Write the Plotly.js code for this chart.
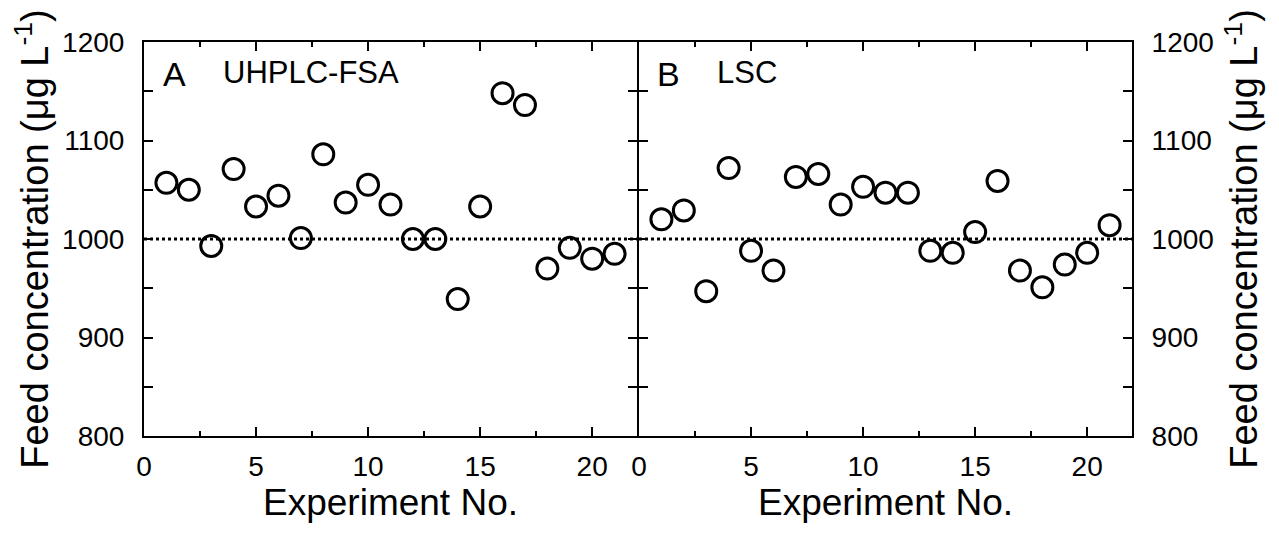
<!DOCTYPE html>
<html>
<head>
<meta charset="utf-8">
<script src="https://cdn.plot.ly/plotly-3.0.1.min.js"></script>
<style>
  html, body { margin: 0; padding: 0; background: #fff; }
  #chart { width: 1279px; height: 537px; }
</style>
</head>
<body>
<div id="chart"></div>
<script>
// Experiment numbers shared by both panels
const experiments = [1,2,3,4,5,6,7,8,9,10,11,12,13,14,15,16,17,18,19,20,21];

// Feed concentration measured by UHPLC-FSA (µg/L)
const uhplcFsa = [1057, 1050, 993, 1071, 1033, 1044, 1001, 1086, 1037, 1055, 1035,
                  1000, 1000, 939, 1033, 1148, 1136, 970, 991, 980, 985];

// Feed concentration measured by LSC (µg/L)
const lsc = [1020, 1029, 947, 1072, 988, 968, 1063, 1066, 1035, 1053, 1047,
             1047, 988, 986, 1007, 1059, 968, 951, 974, 986, 1014];

// Nominal feed concentration and x extent of the reference line
const nominalConc = 1000;
const lineSpan = [0, 22];

const FONT = 'Liberation Sans, Arial, sans-serif';

function points(y, xa, ya) {
  return {
    x: experiments, y: y, xaxis: xa, yaxis: ya,
    type: 'scatter', mode: 'markers',
    marker: { symbol: 'circle-open', size: 21, color: '#000', line: { width: 3, color: '#000' } },
    hoverinfo: 'x+y', showlegend: false
  };
}
function nominal(xa, ya) {
  return {
    x: lineSpan, y: [nominalConc, nominalConc], xaxis: xa, yaxis: ya,
    type: 'scatter', mode: 'lines',
    line: { color: '#000', width: 2.8, dash: 'dot' },
    hoverinfo: 'skip', showlegend: false
  };
}

const data = [
  nominal('x', 'y'), points(uhplcFsa, 'x', 'y'),
  nominal('x2', 'y2'), points(lsc, 'x2', 'y2')
];

const W = 1279, H = 537;
const px = v => v / W;
const yDom = [(H - 436) / H, (H - 42) / H];

const xBase = {
  range: [0, 22], tick0: 0, dtick: 5, ticks: 'inside', ticklen: 9, tickwidth: 2,
  tickcolor: '#000', showline: true, linecolor: '#000', linewidth: 2, mirror: 'ticks',
  showgrid: false, zeroline: false, fixedrange: true,
  minor: { dtick: 2.5, ticks: 'inside', ticklen: 5, tickwidth: 2, tickcolor: '#000', showgrid: false },
  tickfont: { family: FONT, size: 28, color: '#000' },
  ticklabelstandoff: 4,
  title: { text: 'Experiment No.', font: { family: FONT, size: 37, color: '#000' }, standoff: 4 }
};
const yBase = {
  range: [800, 1200], tick0: 800, dtick: 100, ticks: 'inside', ticklen: 9, tickwidth: 2,
  tickcolor: '#000', showline: true, linecolor: '#000', linewidth: 2, mirror: 'ticks',
  showgrid: false, zeroline: false, fixedrange: true,
  minor: { dtick: 50, ticks: 'inside', ticklen: 9, tickwidth: 2, tickcolor: '#000', showgrid: false },
  tickfont: { family: FONT, size: 28, color: '#000' },
  ticklabelstandoff: 12
};
const yTitle = 'Feed concentration (μg L<sup>-1</sup>)';

const layout = {
  width: W, height: H,
  margin: { l: 0, r: 0, t: 0, b: 0 },
  paper_bgcolor: '#fff', plot_bgcolor: '#fff',
  xaxis: Object.assign({}, xBase, { domain: [px(144), px(637)], anchor: 'y' }),
  yaxis: Object.assign({}, yBase, { domain: yDom, anchor: 'x', side: 'left',
    title: { text: yTitle, font: { family: FONT, size: 38, color: '#000' }, standoff: 2 } }),
  xaxis2: Object.assign({}, xBase, { domain: [px(639), px(1132)], anchor: 'y2' }),
  yaxis2: Object.assign({}, yBase, { domain: yDom, anchor: 'x2', side: 'right',
    title: { text: yTitle, font: { family: FONT, size: 38, color: '#000' }, standoff: 18 } }),
  annotations: [
    { xref: 'x domain', yref: 'y domain', x: 0.034, y: 0.918, xanchor: 'left', yanchor: 'middle',
      text: 'A', showarrow: false, font: { family: FONT, size: 34, color: '#000' } },
    { xref: 'x domain', yref: 'y domain', x: 0.156, y: 0.922, xanchor: 'left', yanchor: 'middle',
      text: 'UHPLC-FSA', showarrow: false, font: { family: FONT, size: 31, color: '#000' } },
    { xref: 'x2 domain', yref: 'y2 domain', x: 0.032, y: 0.918, xanchor: 'left', yanchor: 'middle',
      text: 'B', showarrow: false, font: { family: FONT, size: 34, color: '#000' } },
    { xref: 'x2 domain', yref: 'y2 domain', x: 0.154, y: 0.922, xanchor: 'left', yanchor: 'middle',
      text: 'LSC', showarrow: false, font: { family: FONT, size: 31, color: '#000' } }
  ]
};

Plotly.newPlot('chart', data, layout, { displayModeBar: false, staticPlot: true });
</script>
</body>
</html>
